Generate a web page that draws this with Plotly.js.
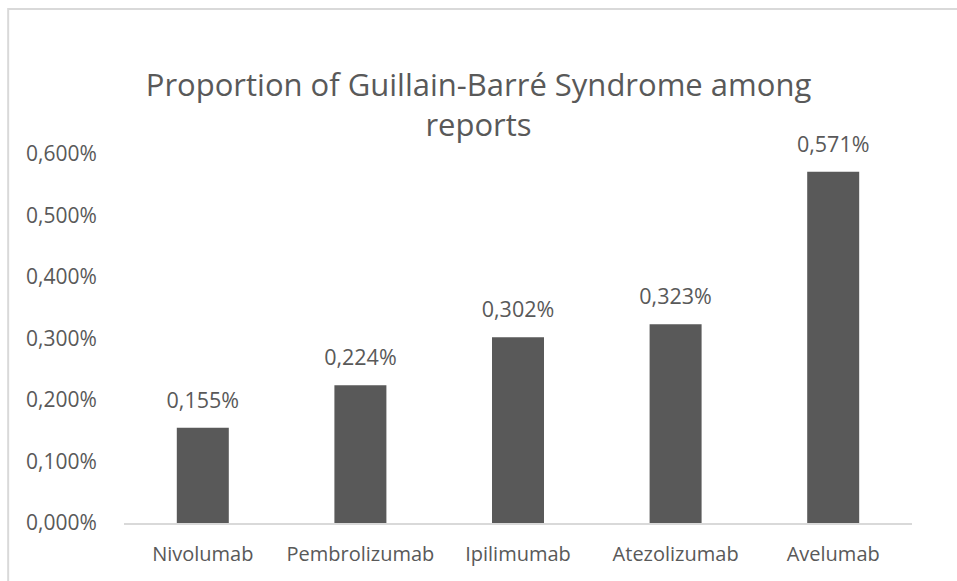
<!DOCTYPE html>
<html><head><meta charset="utf-8">
<script src="https://cdn.plot.ly/plotly-3.0.1.min.js"></script>
<style>html,body{margin:0;padding:0;background:#fff}#chart{width:957px;height:581px}</style>
</head><body><div id="chart"></div>
<script>
const categories = ["Nivolumab", "Pembrolizumab", "Ipilimumab", "Atezolizumab", "Avelumab"];
const proportions = [0.00155, 0.00224, 0.00302, 0.00323, 0.00571];
const yTicks = [0, 0.001, 0.002, 0.003, 0.004, 0.005, 0.006];

const font = "Open Sans, Noto Sans, sans-serif";
const bars = {
  type: "bar", x: categories, y: proportions,
  marker: {color: "#595959"},
  hoverinfo: "skip"
};
const labels = {
  type: "scatter", mode: "markers+text", x: categories, y: proportions,
  marker: {size: 22, color: "rgba(0,0,0,0)"},
  texttemplate: "%{y:.3%}", textposition: "top center", cliponaxis: false,
  textfont: {family: font, size: 21.5, color: "#595959"},
  hoverinfo: "skip"
};
const layout = {
  width: 957, height: 581,
  margin: {l: 124, r: 45, t: 154, b: 58},
  separators: ",.",
  paper_bgcolor: "#fff", plot_bgcolor: "#fff",
  bargap: 0.67,
  showlegend: false,
  title: {text: "Proportion of Guillain-Barré Syndrome among<br>reports",
    font: {family: font, size: 31, color: "#595959"}, x: 0.5, xanchor: "center", y: 0.835, yanchor: "middle"},
  xaxis: {showline: true, linecolor: "#d9d9d9", linewidth: 2, ticks: "outside", ticklen: 12, tickcolor: "rgba(0,0,0,0)",
    tickfont: {family: font, size: 20, color: "#595959"}, fixedrange: true},
  yaxis: {range: [0, 0.006], tickvals: yTicks, tickformat: ".3%", showgrid: false, zeroline: false,
    showline: false, ticks: "outside", ticklen: 22, tickcolor: "rgba(0,0,0,0)",
    tickfont: {family: font, size: 21, color: "#595959"}, fixedrange: true},
  shapes: [{type: "rect", xref: "paper", yref: "paper", x0: -0.147, x1: 1.2, y0: -0.4, y1: 1.393,
    line: {color: "#d9d9d9", width: 2}, fillcolor: "rgba(0,0,0,0)", layer: "below"}]
};
Plotly.newPlot("chart", [bars, labels], layout, {displayModeBar: false, staticPlot: true});
</script></body></html>
